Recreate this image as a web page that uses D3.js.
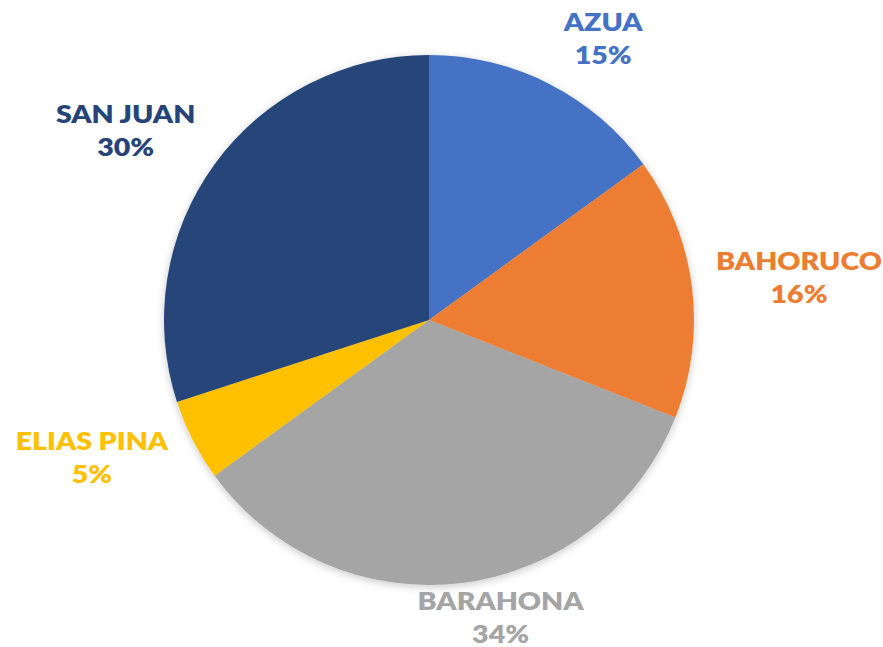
<!DOCTYPE html>
<html>
<head>
<meta charset="utf-8">
<script src="https://cdn.jsdelivr.net/npm/d3@7/dist/d3.min.js"></script>
<style>
  html, body { margin: 0; padding: 0; background: #ffffff; }
  svg { display: block; }
  text { font-family: Lato, "Open Sans", sans-serif; font-weight: 800; }
</style>
</head>
<body>
<svg id="chart" width="883" height="647"></svg>
<script>
// Provinces and their share of the total, clockwise from 12 o'clock
const provinces = ["AZUA", "BAHORUCO", "BARAHONA", "ELIAS PINA", "SAN JUAN"];
const shares = [15, 16, 34, 5, 30];
const sliceColors = ["#4472C4", "#ED7D31", "#A5A5A5", "#FFC000", "#264478"];

// Small hand adjustments to the automatic label placement (px, dx/dy)
const labelNudge = [[25, -16], [2, -5], [25, 3], [-12, 3], [-14, -14]];

const width = 883, height = 647;
const cx = 429, cy = 320, radius = 265;

const svg = d3.select("#chart");

const defs = svg.append("defs");
const shadow = defs.append("filter").attr("id", "softShadow")
  .attr("x", "-20%").attr("y", "-20%").attr("width", "140%").attr("height", "140%");
shadow.append("feGaussianBlur").attr("in", "SourceAlpha").attr("stdDeviation", 4).attr("result", "blur");
shadow.append("feOffset").attr("in", "blur").attr("dx", 0).attr("dy", 2).attr("result", "off");
shadow.append("feComponentTransfer").attr("in", "off").attr("result", "faded")
  .append("feFuncA").attr("type", "linear").attr("slope", 0.22);
const merge = shadow.append("feMerge");
merge.append("feMergeNode").attr("in", "faded");
merge.append("feMergeNode").attr("in", "SourceGraphic");

const data = provinces.map((name, i) => ({ name, value: shares[i], color: sliceColors[i], nudge: labelNudge[i] }));

const pie = d3.pie().value(d => d.value).sort(null);
const arc = d3.arc().innerRadius(0).outerRadius(radius);
const arcs = pie(data);

const g = svg.append("g").attr("transform", `translate(${cx},${cy})`);

g.append("g").attr("filter", "url(#softShadow)")
  .selectAll("path")
  .data(arcs)
  .join("path")
  .attr("d", arc)
  .attr("fill", d => d.data.color);

// Two-line labels (name over percentage) placed outside each slice.
// The block is pushed out along the slice's mid-angle, plus half its own
// size projected onto that direction so it clears the rim.
const fontSize = 24, stretch = 1.19, lineGap = 33, capHeight = 17;
const distX = 288, distY = 272;
const blockH = lineGap + capHeight;

const labels = g.append("g").selectAll("g.label")
  .data(arcs)
  .join("g")
  .attr("class", "label")
  .attr("fill", d => d.data.color)
  .attr("font-size", fontSize);

labels.append("text")
  .attr("text-anchor", "middle")
  .attr("transform", `translate(0,${-blockH / 2 + capHeight}) scale(${stretch},1)`)
  .text(d => d.data.name);

labels.append("text")
  .attr("text-anchor", "middle")
  .attr("transform", `translate(0,${-blockH / 2 + capHeight + lineGap}) scale(${stretch},1)`)
  .text(d => d.data.value + "%");

labels.attr("transform", function (d) {
  const w = this.getBBox().width;
  const a = (d.startAngle + d.endAngle) / 2;
  const sx = Math.sin(a), sy = -Math.cos(a);
  const [nx, ny] = d.data.nudge;
  return `translate(${sx * (distX + w / 2) + nx},${sy * (distY + blockH / 2) + ny})`;
});
</script>
</body>
</html>
